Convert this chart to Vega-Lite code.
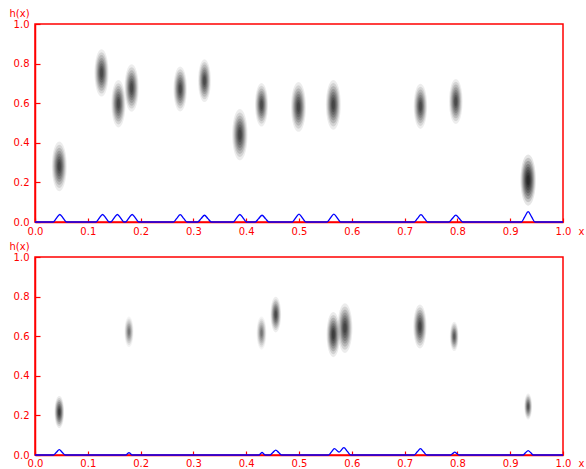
{
  "$schema": "https://vega.github.io/schema/vega-lite/v6.json",
  "background": "white",
  "autosize": {"type": "pad"},
  "padding": {"left": 8, "top": 7, "right": 0, "bottom": 0},
  "spacing": 35,
  "bounds": "flush",
  "datasets": {
    "blobsTop": [
      {"x": 0.046, "h": 0.281, "spread": 0.105, "weight": 0.75},
      {"x": 0.126, "h": 0.753, "spread": 0.1, "weight": 0.72},
      {"x": 0.158, "h": 0.597, "spread": 0.1, "weight": 0.72},
      {"x": 0.183, "h": 0.677, "spread": 0.1, "weight": 0.72},
      {"x": 0.275, "h": 0.672, "spread": 0.095, "weight": 0.72},
      {"x": 0.321, "h": 0.714, "spread": 0.09, "weight": 0.7},
      {"x": 0.388, "h": 0.441, "spread": 0.108, "weight": 0.75},
      {"x": 0.429, "h": 0.592, "spread": 0.092, "weight": 0.7},
      {"x": 0.499, "h": 0.581, "spread": 0.105, "weight": 0.75},
      {"x": 0.565, "h": 0.592, "spread": 0.105, "weight": 0.75},
      {"x": 0.73, "h": 0.584, "spread": 0.095, "weight": 0.7},
      {"x": 0.797, "h": 0.609, "spread": 0.095, "weight": 0.7},
      {"x": 0.934, "h": 0.212, "spread": 0.108, "weight": 1.0}
    ],
    "blobsBottom": [
      {"x": 0.046, "h": 0.217, "spread": 0.068, "weight": 0.8},
      {"x": 0.178, "h": 0.622, "spread": 0.065, "weight": 0.45},
      {"x": 0.429, "h": 0.616, "spread": 0.07, "weight": 0.45},
      {"x": 0.456, "h": 0.709, "spread": 0.075, "weight": 0.7},
      {"x": 0.565, "h": 0.608, "spread": 0.095, "weight": 0.8},
      {"x": 0.587, "h": 0.641, "spread": 0.105, "weight": 0.75},
      {"x": 0.729, "h": 0.649, "spread": 0.093, "weight": 0.75},
      {"x": 0.794, "h": 0.599, "spread": 0.062, "weight": 0.6},
      {"x": 0.934, "h": 0.245, "spread": 0.055, "weight": 0.65}
    ],
    "curveTop": [
      {"x": 0, "h": 0},
      {"x": 0.034, "h": 0}, {"x": 0.0405, "h": 0.019}, {"x": 0.047, "h": 0.038}, {"x": 0.0535, "h": 0.019}, {"x": 0.06, "h": 0},
      {"x": 0.115, "h": 0}, {"x": 0.1215, "h": 0.019}, {"x": 0.128, "h": 0.038}, {"x": 0.1345, "h": 0.019}, {"x": 0.141, "h": 0},
      {"x": 0.143, "h": 0}, {"x": 0.1495, "h": 0.019}, {"x": 0.156, "h": 0.038}, {"x": 0.1625, "h": 0.019}, {"x": 0.169, "h": 0},
      {"x": 0.171, "h": 0}, {"x": 0.1775, "h": 0.019}, {"x": 0.184, "h": 0.038}, {"x": 0.1905, "h": 0.019}, {"x": 0.197, "h": 0},
      {"x": 0.262, "h": 0}, {"x": 0.2685, "h": 0.0185}, {"x": 0.275, "h": 0.037}, {"x": 0.2815, "h": 0.0185}, {"x": 0.288, "h": 0},
      {"x": 0.308, "h": 0}, {"x": 0.3145, "h": 0.017}, {"x": 0.321, "h": 0.034}, {"x": 0.3275, "h": 0.017}, {"x": 0.334, "h": 0},
      {"x": 0.375, "h": 0}, {"x": 0.3815, "h": 0.019}, {"x": 0.388, "h": 0.038}, {"x": 0.3945, "h": 0.019}, {"x": 0.401, "h": 0},
      {"x": 0.417, "h": 0}, {"x": 0.4235, "h": 0.017}, {"x": 0.43, "h": 0.034}, {"x": 0.4365, "h": 0.017}, {"x": 0.443, "h": 0},
      {"x": 0.487, "h": 0}, {"x": 0.4935, "h": 0.02}, {"x": 0.5, "h": 0.04}, {"x": 0.5065, "h": 0.02}, {"x": 0.513, "h": 0},
      {"x": 0.553, "h": 0}, {"x": 0.5595, "h": 0.02}, {"x": 0.566, "h": 0.04}, {"x": 0.5725, "h": 0.02}, {"x": 0.579, "h": 0},
      {"x": 0.718, "h": 0}, {"x": 0.7245, "h": 0.0185}, {"x": 0.731, "h": 0.037}, {"x": 0.7375, "h": 0.0185}, {"x": 0.744, "h": 0},
      {"x": 0.784, "h": 0}, {"x": 0.7905, "h": 0.0175}, {"x": 0.797, "h": 0.035}, {"x": 0.8035, "h": 0.0175}, {"x": 0.81, "h": 0},
      {"x": 0.921, "h": 0}, {"x": 0.9275, "h": 0.026}, {"x": 0.934, "h": 0.052}, {"x": 0.9405, "h": 0.026}, {"x": 0.947, "h": 0},
      {"x": 1, "h": 0}
    ],
    "curveBottom": [
      {"x": 0, "h": 0},
      {"x": 0.035, "h": 0}, {"x": 0.0405, "h": 0.0135}, {"x": 0.046, "h": 0.027}, {"x": 0.0515, "h": 0.0135}, {"x": 0.057, "h": 0},
      {"x": 0.172, "h": 0}, {"x": 0.175, "h": 0.006}, {"x": 0.178, "h": 0.012}, {"x": 0.181, "h": 0.006}, {"x": 0.184, "h": 0},
      {"x": 0.424, "h": 0}, {"x": 0.427, "h": 0.0065}, {"x": 0.43, "h": 0.013}, {"x": 0.433, "h": 0.0065}, {"x": 0.436, "h": 0},
      {"x": 0.445, "h": 0}, {"x": 0.4505, "h": 0.0125}, {"x": 0.456, "h": 0.025}, {"x": 0.4615, "h": 0.0125}, {"x": 0.467, "h": 0},
      {"x": 0.556, "h": 0}, {"x": 0.5615, "h": 0.016}, {"x": 0.567, "h": 0.032}, {"x": 0.576, "h": 0.015}, {"x": 0.585, "h": 0.037}, {"x": 0.5915, "h": 0.0185}, {"x": 0.598, "h": 0},
      {"x": 0.718, "h": 0}, {"x": 0.724, "h": 0.016}, {"x": 0.73, "h": 0.032}, {"x": 0.736, "h": 0.016}, {"x": 0.742, "h": 0},
      {"x": 0.787, "h": 0}, {"x": 0.791, "h": 0.0075}, {"x": 0.795, "h": 0.015}, {"x": 0.799, "h": 0.0075}, {"x": 0.803, "h": 0},
      {"x": 0.924, "h": 0}, {"x": 0.929, "h": 0.011}, {"x": 0.934, "h": 0.022}, {"x": 0.939, "h": 0.011}, {"x": 0.944, "h": 0},
      {"x": 1, "h": 0}
    ]
  },
  "vconcat": [
    {
      "width": 528,
      "height": 198,
      "encoding": {
        "x": {"field": "x", "type": "quantitative", "scale": {"domain": [0, 1], "nice": false},
              "axis": {"title": "x", "values": [0, 0.1, 0.2, 0.3, 0.4, 0.5, 0.6, 0.7, 0.8, 0.9, 1], "format": ".1f",
                       "tickSize": -4, "labelPadding": 8, "titleAngle": 0, "titleX": 543, "titleY": 9,
                       "titleAlign": "left", "titleBaseline": "middle"}},
        "y": {"field": "h", "type": "quantitative", "scale": {"domain": [0, 1], "nice": false},
              "axis": {"title": "h(x)", "values": [0, 0.2, 0.4, 0.6, 0.8, 1], "format": ".1f",
                       "tickSize": -5, "labelPadding": 11, "titleAngle": 0, "titleX": -26, "titleY": -7.5,
                       "titleAlign": "left", "titleBaseline": "alphabetic"}}
      },
      "layer": [
        {"data": {"name": "blobsTop"}, "mark": {"type": "point", "filled": true, "color": "black", "strokeWidth": 0, "opacity": 0.1, "shape": "M0,-1C0.1657,-1 0.3,-0.5523 0.3,0C0.3,0.5523 0.1657,1 0,1C-0.1657,1 -0.3,0.5523 -0.3,0C-0.3,-0.5523 -0.1657,-1 0,-1Z"},
         "encoding": {"size": {"field": "spread", "type": "quantitative", "scale": {"type": "pow", "exponent": 2, "domain": [0, 0.1], "range": [0, 2250]}, "legend": null},
                      "fillOpacity": {"field": "weight", "type": "quantitative", "scale": {"domain": [0, 1], "range": [0, 1]}, "legend": null}}},
        {"data": {"name": "blobsTop"}, "mark": {"type": "point", "filled": true, "color": "black", "strokeWidth": 0, "opacity": 0.14, "shape": "M0,-0.87C0.1441,-0.87 0.261,-0.4805 0.261,0C0.261,0.4805 0.1441,0.87 0,0.87C-0.1441,0.87 -0.261,0.4805 -0.261,0C-0.261,-0.4805 -0.1441,-0.87 0,-0.87Z"},
         "encoding": {"size": {"field": "spread", "type": "quantitative", "legend": null},
                      "fillOpacity": {"field": "weight", "type": "quantitative", "legend": null}}},
        {"data": {"name": "blobsTop"}, "mark": {"type": "point", "filled": true, "color": "black", "strokeWidth": 0, "opacity": 0.18, "shape": "M0,-0.75C0.1243,-0.75 0.225,-0.4142 0.225,0C0.225,0.4142 0.1243,0.75 0,0.75C-0.1243,0.75 -0.225,0.4142 -0.225,0C-0.225,-0.4142 -0.1243,-0.75 0,-0.75Z"},
         "encoding": {"size": {"field": "spread", "type": "quantitative", "legend": null},
                      "fillOpacity": {"field": "weight", "type": "quantitative", "legend": null}}},
        {"data": {"name": "blobsTop"}, "mark": {"type": "point", "filled": true, "color": "black", "strokeWidth": 0, "opacity": 0.2, "shape": "M0,-0.63C0.1044,-0.63 0.189,-0.3479 0.189,0C0.189,0.3479 0.1044,0.63 0,0.63C-0.1044,0.63 -0.189,0.3479 -0.189,0C-0.189,-0.3479 -0.1044,-0.63 0,-0.63Z"},
         "encoding": {"size": {"field": "spread", "type": "quantitative", "legend": null},
                      "fillOpacity": {"field": "weight", "type": "quantitative", "legend": null}}},
        {"data": {"name": "blobsTop"}, "mark": {"type": "point", "filled": true, "color": "black", "strokeWidth": 0, "opacity": 0.22, "shape": "M0,-0.52C0.0862,-0.52 0.156,-0.2872 0.156,0C0.156,0.2872 0.0862,0.52 0,0.52C-0.0862,0.52 -0.156,0.2872 -0.156,0C-0.156,-0.2872 -0.0862,-0.52 0,-0.52Z"},
         "encoding": {"size": {"field": "spread", "type": "quantitative", "legend": null},
                      "fillOpacity": {"field": "weight", "type": "quantitative", "legend": null}}},
        {"data": {"name": "blobsTop"}, "mark": {"type": "point", "filled": true, "color": "black", "strokeWidth": 0, "opacity": 0.24, "shape": "M0,-0.41C0.0679,-0.41 0.123,-0.2264 0.123,0C0.123,0.2264 0.0679,0.41 0,0.41C-0.0679,0.41 -0.123,0.2264 -0.123,0C-0.123,-0.2264 -0.0679,-0.41 0,-0.41Z"},
         "encoding": {"size": {"field": "spread", "type": "quantitative", "legend": null},
                      "fillOpacity": {"field": "weight", "type": "quantitative", "legend": null}}},
        {"data": {"name": "blobsTop"}, "mark": {"type": "point", "filled": true, "color": "black", "strokeWidth": 0, "opacity": 0.25, "shape": "M0,-0.3C0.0497,-0.3 0.09,-0.1657 0.09,0C0.09,0.1657 0.0497,0.3 0,0.3C-0.0497,0.3 -0.09,0.1657 -0.09,0C-0.09,-0.1657 -0.0497,-0.3 0,-0.3Z"},
         "encoding": {"size": {"field": "spread", "type": "quantitative", "legend": null},
                      "fillOpacity": {"field": "weight", "type": "quantitative", "legend": null}}},
        {"data": {"name": "blobsTop"}, "mark": {"type": "point", "filled": true, "color": "black", "strokeWidth": 0, "opacity": 0.25, "shape": "M0,-0.2C0.0331,-0.2 0.06,-0.1105 0.06,0C0.06,0.1105 0.0331,0.2 0,0.2C-0.0331,0.2 -0.06,0.1105 -0.06,0C-0.06,-0.1105 -0.0331,-0.2 0,-0.2Z"},
         "encoding": {"size": {"field": "spread", "type": "quantitative", "legend": null},
                      "fillOpacity": {"field": "weight", "type": "quantitative", "legend": null}}},
        {"data": {"name": "curveTop"}, "mark": {"type": "line", "color": "blue", "strokeWidth": 1.3, "interpolate": "monotone"}, "encoding": {}}
      ]
    },
    {
      "width": 528,
      "height": 198,
      "encoding": {
        "x": {"field": "x", "type": "quantitative", "scale": {"domain": [0, 1], "nice": false},
              "axis": {"title": "x", "values": [0, 0.1, 0.2, 0.3, 0.4, 0.5, 0.6, 0.7, 0.8, 0.9, 1], "format": ".1f",
                       "tickSize": -4, "labelPadding": 7, "titleAngle": 0, "titleX": 543, "titleY": 8,
                       "titleAlign": "left", "titleBaseline": "middle"}},
        "y": {"field": "h", "type": "quantitative", "scale": {"domain": [0, 1], "nice": false},
              "axis": {"title": "h(x)", "values": [0, 0.2, 0.4, 0.6, 0.8, 1], "format": ".1f",
                       "tickSize": -5, "labelPadding": 11, "titleAngle": 0, "titleX": -26, "titleY": -7.5,
                       "titleAlign": "left", "titleBaseline": "alphabetic"}}
      },
      "layer": [
        {"data": {"name": "blobsBottom"}, "mark": {"type": "point", "filled": true, "color": "black", "strokeWidth": 0, "opacity": 0.1, "shape": "M0,-1C0.1657,-1 0.3,-0.5523 0.3,0C0.3,0.5523 0.1657,1 0,1C-0.1657,1 -0.3,0.5523 -0.3,0C-0.3,-0.5523 -0.1657,-1 0,-1Z"},
         "encoding": {"size": {"field": "spread", "type": "quantitative", "scale": {"type": "pow", "exponent": 2, "domain": [0, 0.1], "range": [0, 2250]}, "legend": null},
                      "fillOpacity": {"field": "weight", "type": "quantitative", "scale": {"domain": [0, 1], "range": [0, 1]}, "legend": null}}},
        {"data": {"name": "blobsBottom"}, "mark": {"type": "point", "filled": true, "color": "black", "strokeWidth": 0, "opacity": 0.14, "shape": "M0,-0.87C0.1441,-0.87 0.261,-0.4805 0.261,0C0.261,0.4805 0.1441,0.87 0,0.87C-0.1441,0.87 -0.261,0.4805 -0.261,0C-0.261,-0.4805 -0.1441,-0.87 0,-0.87Z"},
         "encoding": {"size": {"field": "spread", "type": "quantitative", "legend": null},
                      "fillOpacity": {"field": "weight", "type": "quantitative", "legend": null}}},
        {"data": {"name": "blobsBottom"}, "mark": {"type": "point", "filled": true, "color": "black", "strokeWidth": 0, "opacity": 0.18, "shape": "M0,-0.75C0.1243,-0.75 0.225,-0.4142 0.225,0C0.225,0.4142 0.1243,0.75 0,0.75C-0.1243,0.75 -0.225,0.4142 -0.225,0C-0.225,-0.4142 -0.1243,-0.75 0,-0.75Z"},
         "encoding": {"size": {"field": "spread", "type": "quantitative", "legend": null},
                      "fillOpacity": {"field": "weight", "type": "quantitative", "legend": null}}},
        {"data": {"name": "blobsBottom"}, "mark": {"type": "point", "filled": true, "color": "black", "strokeWidth": 0, "opacity": 0.2, "shape": "M0,-0.63C0.1044,-0.63 0.189,-0.3479 0.189,0C0.189,0.3479 0.1044,0.63 0,0.63C-0.1044,0.63 -0.189,0.3479 -0.189,0C-0.189,-0.3479 -0.1044,-0.63 0,-0.63Z"},
         "encoding": {"size": {"field": "spread", "type": "quantitative", "legend": null},
                      "fillOpacity": {"field": "weight", "type": "quantitative", "legend": null}}},
        {"data": {"name": "blobsBottom"}, "mark": {"type": "point", "filled": true, "color": "black", "strokeWidth": 0, "opacity": 0.22, "shape": "M0,-0.52C0.0862,-0.52 0.156,-0.2872 0.156,0C0.156,0.2872 0.0862,0.52 0,0.52C-0.0862,0.52 -0.156,0.2872 -0.156,0C-0.156,-0.2872 -0.0862,-0.52 0,-0.52Z"},
         "encoding": {"size": {"field": "spread", "type": "quantitative", "legend": null},
                      "fillOpacity": {"field": "weight", "type": "quantitative", "legend": null}}},
        {"data": {"name": "blobsBottom"}, "mark": {"type": "point", "filled": true, "color": "black", "strokeWidth": 0, "opacity": 0.24, "shape": "M0,-0.41C0.0679,-0.41 0.123,-0.2264 0.123,0C0.123,0.2264 0.0679,0.41 0,0.41C-0.0679,0.41 -0.123,0.2264 -0.123,0C-0.123,-0.2264 -0.0679,-0.41 0,-0.41Z"},
         "encoding": {"size": {"field": "spread", "type": "quantitative", "legend": null},
                      "fillOpacity": {"field": "weight", "type": "quantitative", "legend": null}}},
        {"data": {"name": "blobsBottom"}, "mark": {"type": "point", "filled": true, "color": "black", "strokeWidth": 0, "opacity": 0.25, "shape": "M0,-0.3C0.0497,-0.3 0.09,-0.1657 0.09,0C0.09,0.1657 0.0497,0.3 0,0.3C-0.0497,0.3 -0.09,0.1657 -0.09,0C-0.09,-0.1657 -0.0497,-0.3 0,-0.3Z"},
         "encoding": {"size": {"field": "spread", "type": "quantitative", "legend": null},
                      "fillOpacity": {"field": "weight", "type": "quantitative", "legend": null}}},
        {"data": {"name": "blobsBottom"}, "mark": {"type": "point", "filled": true, "color": "black", "strokeWidth": 0, "opacity": 0.25, "shape": "M0,-0.2C0.0331,-0.2 0.06,-0.1105 0.06,0C0.06,0.1105 0.0331,0.2 0,0.2C-0.0331,0.2 -0.06,0.1105 -0.06,0C-0.06,-0.1105 -0.0331,-0.2 0,-0.2Z"},
         "encoding": {"size": {"field": "spread", "type": "quantitative", "legend": null},
                      "fillOpacity": {"field": "weight", "type": "quantitative", "legend": null}}},
        {"data": {"name": "curveBottom"}, "mark": {"type": "line", "color": "blue", "strokeWidth": 1.3, "interpolate": "monotone"}, "encoding": {}}
      ]
    }
  ],
  "config": {
    "view": {"stroke": "red", "strokeWidth": 1.5},
    "axis": {
      "grid": false,
      "domainColor": "red", "domainWidth": 1.5,
      "tickColor": "red", "tickWidth": 1.2,
      "labelColor": "red", "titleColor": "red",
      "labelFont": "DejaVu Sans", "titleFont": "DejaVu Sans",
      "labelFontSize": 10, "titleFontSize": 10, "titleFontWeight": "normal",
      "labelFlush": false, "labelOverlap": false
    }
  }
}
